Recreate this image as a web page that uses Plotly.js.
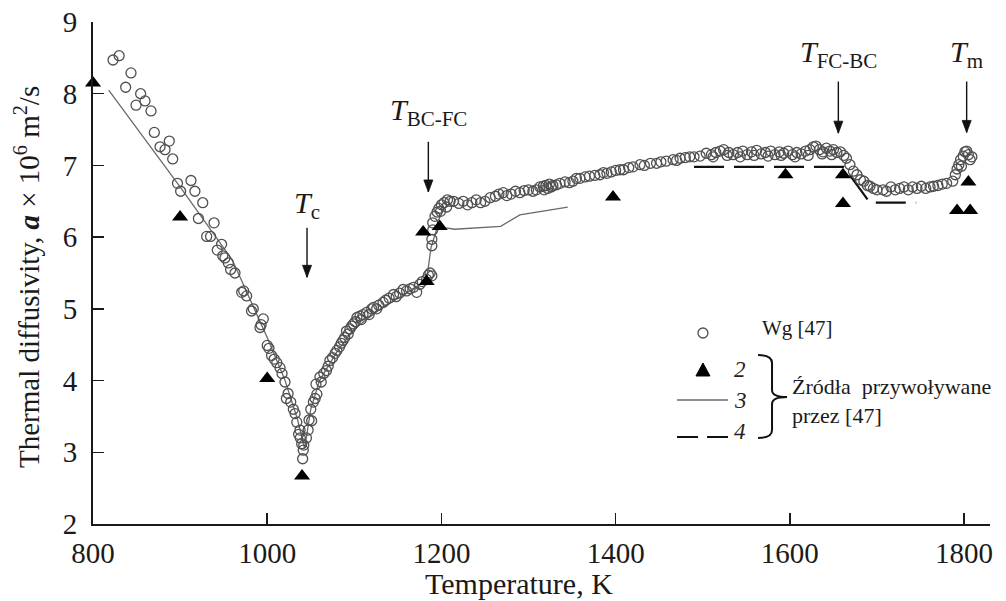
<!DOCTYPE html>
<html>
<head>
<meta charset="utf-8">
<script src="https://cdn.plot.ly/plotly-3.0.1.min.js"></script>
<style>
  html, body { margin: 0; padding: 0; background: #fff; }
  #chart { width: 1006px; height: 601px; }
</style>
</head>
<body>
<div id="chart"></div>
<script>
// ---- Data: series "Wg [47]" (open circles) ----
const wgT = [
  823, 830, 843.6, 837.5, 854.7, 859.7, 849.4, 866.6, 870.4, 887.6, 877, 882.7, 891.5, 897, 900.6, 912.5, 917, 926, 921, 939,
  930.5, 935, 947.6, 942.7, 951.5, 949, 955.4, 963, 958, 970.7, 976.4, 973, 982, 984, 995.5, 991.7, 993, 1000, 1002, 1005,
  1011, 1008, 1014.7, 1017, 1020.4, 1024, 1022, 1027, 1030, 1032, 1034, 1037.7, 1036, 1039.6, 1041.4, 1040.7, 1038, 1042,
  1047, 1045, 1048, 1051, 1050, 1053, 1055, 1057, 1056, 1060.6, 1062, 1065, 1068, 1070, 1072, 1075, 1078, 1080, 1083, 1085,
  1087, 1089, 1091, 1093, 1095, 1097, 1099, 1101, 1103, 1106.5, 1108, 1110, 1114, 1117, 1120, 1122, 1125.7, 1128, 1133, 1136,
  1140, 1145, 1148, 1152, 1156, 1160, 1164, 1168, 1171.6, 1175, 1178, 1183, 1185, 1187, 1189, 1189, 1189, 1190,
  1190, 1192.6, 1195, 1197, 1200, 1203, 1207, 1210, 1214, 1220, 1225, 1230, 1235, 1240, 1245, 1250, 1256, 1262, 1266, 1271,
  1275, 1280, 1285, 1290, 1295, 1300, 1305, 1309, 1313, 1317, 1320, 1322, 1324, 1328, 1332, 1336, 1342, 1347, 1351, 1355,
  1359, 1365, 1370, 1376, 1382, 1386, 1390, 1395, 1400, 1405, 1409, 1415, 1420, 1428, 1433, 1440, 1447, 1452, 1458, 1466,
  1470, 1474, 1480, 1485, 1490, 1497,
  1504, 1510, 1515, 1520, 1524, 1530, 1535, 1540, 1546, 1551, 1556, 1562, 1567, 1572, 1578, 1583, 1588, 1593, 1598, 1603,
  1608, 1613, 1618, 1623, 1627, 1630, 1634, 1638, 1642, 1646, 1650, 1654, 1658, 1662, 1665, 1669, 1673, 1677, 1681, 1685,
  1689, 1692, 1696, 1700, 1707, 1711, 1716, 1721, 1726, 1731, 1736, 1741, 1746, 1751, 1756, 1761, 1765, 1770, 1775, 1780,
  1787, 1790, 1792, 1794, 1796, 1799, 1801, 1803, 1805, 1807, 1809, 1797,
  1512, 1528, 1543, 1559, 1575, 1590, 1606, 1621, 1637, 1648, 1318, 1326, 1206, 1199
];
const wgA = [
  8.47, 8.53, 8.29, 8.09, 8.00, 7.90, 7.84, 7.76, 7.46, 7.34, 7.26, 7.22, 7.09, 6.75, 6.64, 6.79, 6.64, 6.48, 6.26, 6.20,
  6.01, 6.01, 5.90, 5.82, 5.71, 5.74, 5.64, 5.50, 5.55, 5.23, 5.18, 5.25, 4.97, 5.00, 4.86, 4.74, 4.78, 4.49, 4.45, 4.35,
  4.25, 4.30, 4.18, 4.10, 3.98, 3.82, 3.75, 3.70, 3.60, 3.54, 3.42, 3.31, 3.25, 3.12, 3.03, 2.91, 3.20, 3.10,
  3.31, 3.20, 3.45, 3.44, 3.60, 3.70, 3.75, 3.81, 3.95, 4.05, 3.98, 4.10, 4.14, 4.20, 4.28, 4.32, 4.38, 4.42, 4.47, 4.52,
  4.56, 4.60, 4.69, 4.65, 4.72, 4.76, 4.79, 4.82, 4.88, 4.90, 4.85, 4.92, 4.95, 4.92, 5.00, 5.02, 5.00, 5.05, 5.09, 5.12,
  5.15, 5.20, 5.17, 5.22, 5.27, 5.25, 5.28, 5.30, 5.23, 5.34, 5.38, 5.41, 5.47, 5.50, 5.46, 5.88, 5.97, 6.10,
  6.20, 6.29, 6.35, 6.40, 6.45, 6.48, 6.52, 6.50, 6.50, 6.47, 6.50, 6.45, 6.48, 6.52, 6.48, 6.50, 6.55, 6.57, 6.60, 6.62,
  6.58, 6.60, 6.64, 6.62, 6.65, 6.66, 6.64, 6.66, 6.70, 6.71, 6.72, 6.68, 6.74, 6.72, 6.73, 6.75, 6.77, 6.76, 6.78, 6.82,
  6.82, 6.84, 6.85, 6.86, 6.87, 6.90, 6.89, 6.91, 6.93, 6.94, 6.94, 6.97, 6.98, 7.01, 7.00, 7.03, 7.03, 7.05, 7.06, 7.08,
  7.07, 7.10, 7.11, 7.12, 7.12, 7.13,
  7.17, 7.15, 7.18, 7.20, 7.22, 7.18, 7.15, 7.18, 7.20, 7.15, 7.19, 7.21, 7.16, 7.18, 7.20, 7.15, 7.19, 7.17, 7.20, 7.15,
  7.18, 7.16, 7.20, 7.22, 7.26, 7.27, 7.22, 7.19, 7.24, 7.20, 7.22, 7.18, 7.19, 7.14, 7.10, 7.01, 6.92, 6.87, 6.80, 6.78,
  6.72, 6.71, 6.68, 6.66, 6.66, 6.64, 6.70, 6.66, 6.68, 6.70, 6.66, 6.70, 6.68, 6.71, 6.68, 6.70, 6.71, 6.72, 6.74, 6.75,
  6.78, 6.87, 6.95, 7.01, 7.08, 7.13, 7.19, 7.20, 7.15, 7.08, 7.12, 6.99,
  7.12, 7.14, 7.12, 7.14, 7.13, 7.14, 7.12, 7.14, 7.16, 7.15, 6.66, 6.70, 6.42, 6.36
];

// ---- Series 2 (filled triangles) ----
const s2T = [800, 900, 1000, 1040, 1183, 1179, 1198, 1397, 1595, 1661, 1661, 1792, 1805, 1807];
const s2A = [8.15, 6.28, 4.03, 2.67, 5.38, 6.07, 6.15, 6.56, 6.87, 6.87, 6.47, 6.37, 6.77, 6.37];

// ---- Series 3 (thin grey line) ----
const s3T = [818, 900, 960, 1000, 1020, 1035, 1043, 1050, 1060, 1080, 1100, 1130, 1160, 1183, 1188, 1196, 1205, 1215, 1268, 1290, 1345];
const s3A = [8.05, 6.70, 5.68, 4.60, 4.02, 3.45, 3.05, 3.60, 4.00, 4.40, 4.72, 5.00, 5.22, 5.40, 5.85, 6.17, 6.13, 6.11, 6.15, 6.31, 6.42];

// ---- Series 4 (dashed line) ----
const s4T = [1490, 1662, 1692, 1745];
const s4A = [6.98, 6.98, 6.48, 6.48];

// ---- Axis ticks ----
const xTicks = [800, 1000, 1200, 1400, 1600, 1800];
const yTicks = [2, 3, 4, 5, 6, 7, 8, 9];

// ---- Transition markers (label, temperature, arrow head / tail values) ----
const markLabels = ['<i>T</i><sub>c</sub>', '<i>T</i><sub>BC-FC</sub>', '<i>T</i><sub>FC-BC</sub>', '<i>T</i><sub>m</sub>'];
const markT = [1045.7, 1185, 1655.7, 1803];
const markHead = [5.44, 6.63, 7.45, 7.46];
const markTail = [6.13, 7.33, 8.17, 8.17];
const markLabelA = [6.45, 7.74, 8.55, 8.55];

const FONT = 'Liberation Serif, Times New Roman, serif';
const INK = '#1a1a1a';

const traces = [
  { x: s3T, y: s3A, type: 'scatter', mode: 'lines', line: { color: '#6a6a6a', width: 1.3 }, hoverinfo: 'skip', cliponaxis: false },
  { x: s4T, y: s4A, type: 'scatter', mode: 'lines', line: { color: '#111', width: 2.2, dash: '30px,10px' }, hoverinfo: 'skip', cliponaxis: false },
  { x: wgT, y: wgA, type: 'scatter', mode: 'markers',
    marker: { symbol: 'circle-open', size: 10, color: '#505050', line: { width: 1.3, color: '#505050' } }, cliponaxis: false },
  { x: s2T, y: s2A, type: 'scatter', mode: 'markers',
    marker: { symbol: 'triangle-up', size: 14, color: '#000' }, cliponaxis: false }
];

const annotations = [];
const shapes = [];
for (let i = 0; i < markT.length; i++) {
  // arrow shaft
  shapes.push({ type: 'line', xref: 'x', yref: 'y', x0: markT[i], x1: markT[i], y0: markTail[i], y1: markHead[i],
    line: { color: '#111', width: 1.4 } });
  // arrow head (pixel-sized, anchored at the head point)
  shapes.push({ type: 'path', xref: 'x', yref: 'y', xsizemode: 'pixel', ysizemode: 'pixel',
    xanchor: markT[i], yanchor: markHead[i], path: 'M-4.5,12 L4.5,12 L0,0 Z',
    fillcolor: '#111', line: { color: '#111', width: 0.8 } });
  annotations.push({
    x: markT[i], y: markLabelA[i], xref: 'x', yref: 'y', text: markLabels[i], showarrow: false,
    font: { family: FONT, size: 30, color: INK }, xanchor: 'center', yanchor: 'middle'
  });
}

// axis titles
annotations.push({ x: 0.4749, y: -0.118, xref: 'paper', yref: 'paper', text: 'Temperature, K', showarrow: false,
  font: { family: FONT, size: 30, color: INK }, xanchor: 'center', yanchor: 'middle' });
annotations.push({ x: -0.0736, y: 0.492, xref: 'paper', yref: 'paper', textangle: -90,
  text: 'Thermal diffusivity, <b><i>a</i></b> × 10<sup>6</sup> m<sup>2</sup>/s', showarrow: false,
  font: { family: FONT, size: 29, color: INK }, xanchor: 'center', yanchor: 'middle' });

// legend texts
annotations.push({ x: 0.7436, y: 0.3904, xref: 'paper', yref: 'paper', text: 'Wg [47]', showarrow: false,
  font: { family: FONT, size: 21, color: INK }, xanchor: 'left', yanchor: 'middle' });
annotations.push({ x: 0.7213, y: 0.3068, xref: 'paper', yref: 'paper', text: '<i>2</i>', showarrow: false,
  font: { family: FONT, size: 23, color: '#2a2218' }, xanchor: 'center', yanchor: 'middle' });
annotations.push({ x: 0.7213, y: 0.2470, xref: 'paper', yref: 'paper', text: '<i>3</i>', showarrow: false,
  font: { family: FONT, size: 23, color: '#2a2218' }, xanchor: 'center', yanchor: 'middle' });
annotations.push({ x: 0.7213, y: 0.1833, xref: 'paper', yref: 'paper', text: '<i>4</i>', showarrow: false,
  font: { family: FONT, size: 23, color: '#2a2218' }, xanchor: 'center', yanchor: 'middle' });
annotations.push({ x: 0.7770, y: 0.2749, xref: 'paper', yref: 'paper', text: 'Źródła  przywoływane', showarrow: false,
  font: { family: FONT, size: 22, color: INK }, xanchor: 'left', yanchor: 'middle' });
annotations.push({ x: 0.7770, y: 0.2171, xref: 'paper', yref: 'paper', text: 'przez [47]', showarrow: false,
  font: { family: FONT, size: 22, color: INK }, xanchor: 'left', yanchor: 'middle' });

shapes.push(
  { type: 'circle', xref: 'paper', yref: 'paper', xsizemode: 'pixel', ysizemode: 'pixel',
    xanchor: 0.6800, yanchor: 0.3805, x0: -5, x1: 5, y0: -5, y1: 5, line: { color: '#505050', width: 1.3 } },
  { type: 'path', xref: 'paper', yref: 'paper', xsizemode: 'pixel', ysizemode: 'pixel',
    xanchor: 0.6800, yanchor: 0.3068, path: 'M-7,-6L7,-6L0,7Z', fillcolor: '#000', line: { color: '#000', width: 1 } },
  { type: 'line', xref: 'paper', yref: 'paper', x0: 0.6511, x1: 0.7079, y0: 0.2470, y1: 0.2470, line: { color: '#6a6a6a', width: 1.3 } },
  { type: 'line', xref: 'paper', yref: 'paper', x0: 0.6511, x1: 0.7079, y0: 0.1733, y1: 0.1733, line: { color: '#111', width: 2.2, dash: '21px,9px' } },
  { type: 'path', xref: 'paper', yref: 'paper', xsizemode: 'pixel', ysizemode: 'pixel',
    xanchor: 0.7570, yanchor: 0.2530, path: 'M-14,42 Q0,42 0,34 L0,7 Q0,0 15,0 Q0,0 0,-7 L0,-33 Q0,-41 -14,-41',
    line: { color: '#111', width: 2 }, fillcolor: 'rgba(0,0,0,0)' }
);

const layout = {
  width: 1006, height: 601,
  margin: { l: 93, r: 16, t: 22, b: 77, pad: 0 },
  paper_bgcolor: '#fff', plot_bgcolor: '#fff',
  showlegend: false,
  font: { family: FONT, color: INK },
  xaxis: {
    range: [800, 1829.8], tickmode: 'array', tickvals: xTicks, ticktext: xTicks.map(String),
    showgrid: false, zeroline: false, showline: true, linecolor: '#1a1a1a', linewidth: 2,
    ticks: 'inside', ticklen: 11, tickwidth: 1.5, tickcolor: '#1a1a1a',
    tickfont: { family: FONT, size: 29, color: INK }, ticklabelstandoff: 2
  },
  yaxis: {
    range: [2, 9], tickmode: 'array', tickvals: yTicks, ticktext: yTicks.map(String),
    showgrid: false, zeroline: false, showline: true, linecolor: '#1a1a1a', linewidth: 2,
    ticks: 'inside', ticklen: 11, tickwidth: 1.5, tickcolor: '#1a1a1a',
    tickfont: { family: FONT, size: 29, color: INK }, ticklabelstandoff: 8
  },
  annotations: annotations,
  shapes: shapes
};

Plotly.newPlot('chart', traces, layout, { staticPlot: true, displayModeBar: false });
</script>
</body>
</html>
